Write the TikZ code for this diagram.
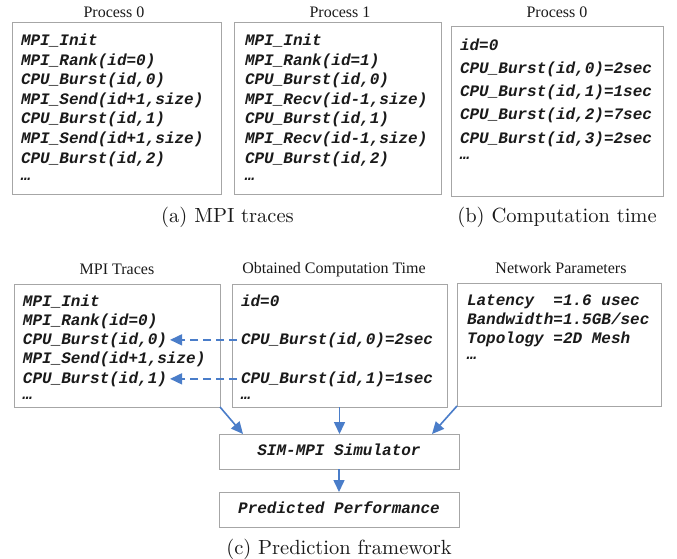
\documentclass[tikz,border=0pt]{standalone}
\usepackage{fontspec}
\newfontfamily\titlefont{Liberation Serif}
\newfontfamily\codefont{Liberation Mono}
\newfontfamily\capfont{lmroman10-regular}[Extension=.otf]
\usetikzlibrary{arrows.meta}
\definecolor{boxgray}{HTML}{A6A6A6}
\definecolor{arrblue}{HTML}{4A7DC9}
\definecolor{txt}{HTML}{1A1A1A}
\tikzset{
  box/.style={draw=boxgray, line width=1pt, outer sep=0pt, inner sep=0pt, anchor=north west},
  code/.style={font=\codefont\bfseries\itshape\fontsize{16}{19}\selectfont, text=txt, anchor=base west, inner sep=0pt, outer sep=0pt},
  ttl/.style={font=\titlefont\fontsize{16}{19}\selectfont, text=txt, anchor=base, inner sep=0pt},
  capt/.style={font=\capfont\fontsize{20.5}{24}\selectfont, text=txt, anchor=base, inner sep=0pt},
  arr/.style={draw=arrblue, line width=1.6pt, -{Triangle[length=12pt,width=11pt]}},
  darr/.style={arr, dash pattern=on 8pt off 5pt}
}
\begin{document}
\begin{tikzpicture}[x=1pt, y=-1pt]
\useasboundingbox (0,0) rectangle (677,559);
\fill[white] (0,0) rectangle (677,559);

% ---------- (a) MPI traces ----------
\node[ttl] (tA) at (114,18) {Process 0};
\node[box, minimum width=209pt, minimum height=171pt] (boxA) at (12,23) {};
\node[code] (a1) at (21,46) {MPI\_Init};
\node[code] (a2) at (21,65.5) {MPI\_Rank(id=0)};
\node[code] (a3) at (21,85) {CPU\_Burst(id,0)};
\node[code] (a4) at (21,104.5) {MPI\_Send(id+1,size)};
\node[code] (a5) at (21,124) {CPU\_Burst(id,1)};
\node[code] (a6) at (21,143.5) {MPI\_Send(id+1,size)};
\node[code] (a7) at (21,163) {CPU\_Burst(id,2)};
\node[code] (a8) at (21,180) {…};

\node[ttl] (tB) at (340,18) {Process 1};
\node[box, minimum width=207pt, minimum height=171pt] (boxB) at (234,23) {};
\node[code] (b1) at (245,46) {MPI\_Init};
\node[code] (b2) at (245,65.5) {MPI\_Rank(id=1)};
\node[code] (b3) at (245,85) {CPU\_Burst(id,0)};
\node[code] (b4) at (245,104.5) {MPI\_Recv(id-1,size)};
\node[code] (b5) at (245,124) {CPU\_Burst(id,1)};
\node[code] (b6) at (245,143.5) {MPI\_Recv(id-1,size)};
\node[code] (b7) at (245,163) {CPU\_Burst(id,2)};
\node[code] (b8) at (245,180) {…};

\node[capt] (capA) at (227.5,222) {(a) MPI traces};

% ---------- (b) Computation time ----------
\node[ttl] (tC) at (557,18) {Process 0};
\node[box, minimum width=212pt, minimum height=169pt] (boxC) at (451,27) {};
\node[code] (c1) at (460,50.5) {id=0};
\node[code] (c2) at (460,74) {CPU\_Burst(id,0)=2sec};
\node[code] (c3) at (460,97) {CPU\_Burst(id,1)=1sec};
\node[code] (c4) at (460,120) {CPU\_Burst(id,2)=7sec};
\node[code] (c5) at (460,143) {CPU\_Burst(id,3)=2sec};
\node[code] (c6) at (460,159) {…};

\node[capt] (capB) at (557,222) {(b) Computation time};

% ---------- (c) Prediction framework ----------
\node[ttl] (tD) at (117,274) {MPI Traces};
\node[box, minimum width=206pt, minimum height=123pt] (boxD) at (14,284) {};
\node[code] (d1) at (23,306) {MPI\_Init};
\node[code] (d2) at (23,325) {MPI\_Rank(id=0)};
\node[code] (d3) at (23,344) {CPU\_Burst(id,0)};
\node[code] (d4) at (23,363.5) {MPI\_Send(id+1,size)};
\node[code] (d5) at (23,383) {CPU\_Burst(id,1)};
\node[code] (d6) at (23,399) {…};

\node[ttl] (tE) at (334,273) {Obtained Computation Time};
\node[box, minimum width=215pt, minimum height=123pt] (boxE) at (232,284) {};
\node[code] (e1) at (241,306) {id=0};
\node[code] (e2) at (241,344) {CPU\_Burst(id,0)=2sec};
\node[code] (e3) at (241,383) {CPU\_Burst(id,1)=1sec};
\node[code] (e4) at (241,399) {…};

\node[ttl] (tF) at (561,273) {Network Parameters};
\node[box, minimum width=204pt, minimum height=123pt] (boxF) at (457,283) {};
\node[code] (f1) at (467,305) {Latency~~=1.6 usec};
\node[code] (f2) at (467,324) {Bandwidth=1.5GB/sec};
\node[code] (f3) at (467,343) {Topology~=2D Mesh};
\node[code] (f4) at (467,359) {…};

\node[box, minimum width=240pt, minimum height=35pt] (sim) at (219,434) {};
\node[code, anchor=base] (simt) at (339,455) {SIM-MPI Simulator};
\node[box, minimum width=240pt, minimum height=35pt] (pred) at (219,492) {};
\node[code, anchor=base] (predt) at (339,513) {Predicted Performance};

\node[capt] (capC) at (339,554) {(c) Prediction framework};

% ---------- connectors ----------
\draw[darr, shorten <=4pt, shorten >=3pt] (e2.west) -- (d3.east);
\draw[darr, shorten <=4pt, shorten >=3pt] (e3.west) -- (d5.east);
\draw[arr] (boxD.south east) -- ([xshift=24pt]sim.north west);
\draw[arr] (boxE.south) -- (boxE.south |- sim.north);
\draw[arr] (boxF.south west) -- ([xshift=-27pt]sim.north east);
\draw[arr] (sim.south) -- (pred.north);
\end{tikzpicture}
\end{document}
